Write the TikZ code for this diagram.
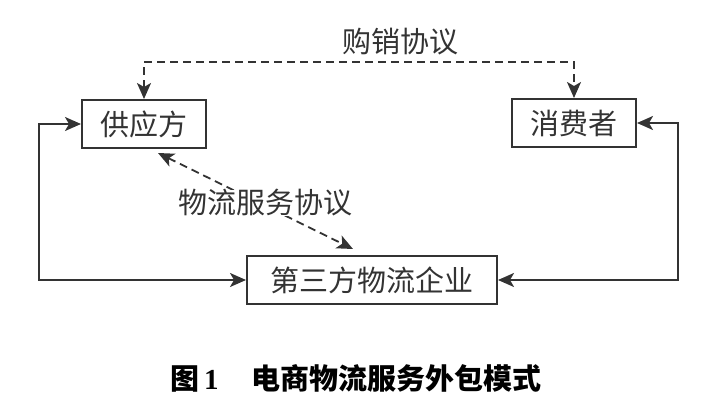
\documentclass[tikz,border=0pt]{standalone}
\usepackage{fontspec}
\newfontfamily\cjk{Noto Sans CJK SC}
\newfontfamily\serifb{Liberation Serif}
\usetikzlibrary{arrows.meta}
\definecolor{ink}{HTML}{333333}
\begin{document}
\begin{tikzpicture}[x=1pt,y=-1pt,
  box/.style={draw=ink,line width=2pt,minimum height=48pt,inner sep=0pt,
    font=\cjk\fontsize{29}{30}\selectfont,text=ink},
  lbl/.style={font=\cjk\fontsize{29}{30}\selectfont,text=ink,inner sep=0pt},
  conn/.style={draw=ink,line width=1.8pt,{Stealth[length=16pt,width=14pt,inset=4pt]}-{Stealth[length=16pt,width=14pt,inset=4pt]}},
  dsh/.style={conn,dash pattern=on 8pt off 5pt}]
\useasboundingbox (0,0) rectangle (727,414);
\node[box,minimum width=124pt] (sup) at (144,124) {供应方};
\node[box,minimum width=124pt] (con) at (574,123) {消费者};
\node[box,minimum width=250pt] (tpl) at (372,280) {第三方物流企业};
% purchase agreement
\draw[dsh] (sup.north) -- ++(0,-37) coordinate (tl) -| (con.north);
\node[lbl] (pa) at (400,42) {购销协议};
% solid loops
\draw[conn] (sup.west) -- ++(-42,0) coordinate (lc) |- (tpl.west);
\draw[conn] (con.east) -- ++(41,0) coordinate (rc) |- (tpl.east);
% logistics service agreement
\coordinate (d1) at (158,153);
\coordinate (d2) at (353,249);
\draw[dsh] (d1) -- (d2);
\node[lbl,fill=white] (la) at (265,203) {物流服务协议};
% caption
\node[anchor=west,inner sep=0pt,text=black] (cap) at (170,378)
  {{\cjk\bfseries\fontsize{29}{30}\selectfont 图}\hspace{5pt}{\serifb\bfseries\fontsize{29}{30}\selectfont 1}\hspace{33pt}{\cjk\bfseries\fontsize{29}{30}\selectfont 电商物流服务外包模式}};
\end{tikzpicture}
\end{document}
